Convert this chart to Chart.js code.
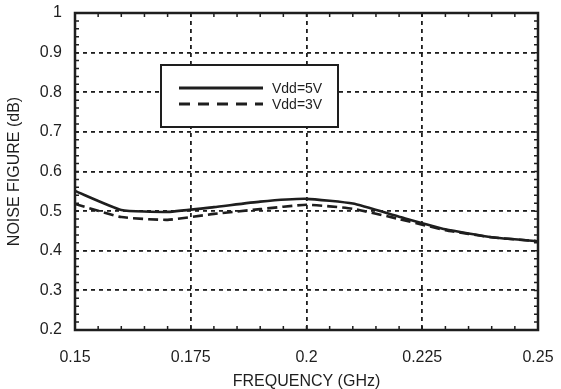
<!DOCTYPE html>
<html>
<head>
<meta charset="utf-8">
<script src="https://cdn.jsdelivr.net/npm/chart.js@4.4.1/dist/chart.umd.min.js"></script>
<style>
  html, body { margin: 0; padding: 0; background: #fff; }
  #wrap { width: 561px; height: 389px; }
</style>
</head>
<body>
<div id="wrap"><canvas id="nf"></canvas></div>
<script>
// frequency points (GHz) and noise figure (dB) for both supply voltages
const freqs = [0.15, 0.16, 0.17, 0.18, 0.19, 0.20, 0.21, 0.22, 0.23, 0.24, 0.25];
const nf5V = [0.551, 0.503, 0.498, 0.510, 0.524, 0.531, 0.519, 0.486, 0.454, 0.434, 0.424];
const nf3V = [0.518, 0.485, 0.478, 0.493, 0.505, 0.516, 0.506, 0.480, 0.452, 0.434, 0.424];

const xTicks = [0.15, 0.175, 0.2, 0.225, 0.25];
const xTickLabels = ['0.15', '0.175', '0.2', '0.225', '0.25'];
const yTicks = [0.2, 0.3, 0.4, 0.5, 0.6, 0.7, 0.8, 0.9, 1];
const yTickLabels = ['0.2', '0.3', '0.4', '0.5', '0.6', '0.7', '0.8', '0.9', '1'];

const ink = '#1e1e1e';
const font = { family: 'Liberation Sans, Arial, Helvetica, sans-serif', size: 16 };

const toPoints = (ys) => freqs.map((f, i) => ({ x: f, y: ys[i] }));

// keep the plot box where the layout padding puts it (no label overhang)
const noOverhang = (s) => {
  s.paddingLeft = s.paddingRight = s.paddingTop = s.paddingBottom = 0;
};

// small inward ticks on all four sides plus the heavy frame
const framePlugin = {
  id: 'frame',
  afterDatasetsDraw(chart) {
    const { ctx, chartArea: a, scales: { x, y } } = chart;
    ctx.save();
    ctx.strokeStyle = ink;
    ctx.lineWidth = 1.5;
    ctx.setLineDash([]);
    const len = 4;
    ctx.beginPath();
    for (let i = 1; i < 20; i++) {
      const px = x.getPixelForValue(0.15 + i * 0.005);
      ctx.moveTo(px, a.top); ctx.lineTo(px, a.top + len);
      ctx.moveTo(px, a.bottom); ctx.lineTo(px, a.bottom - len);
    }
    for (let i = 1; i < 40; i++) {
      const py = y.getPixelForValue(0.2 + i * 0.02);
      ctx.moveTo(a.left, py); ctx.lineTo(a.left + len, py);
      ctx.moveTo(a.right, py); ctx.lineTo(a.right - len, py);
    }
    ctx.stroke();
    ctx.lineWidth = 2.5;
    ctx.strokeRect(a.left, a.top, a.right - a.left, a.bottom - a.top);
    ctx.restore();
  }
};

// boxed legend sitting inside the plot area
const boxLegend = {
  id: 'boxLegend',
  afterDatasetsDraw(chart) {
    const { ctx, chartArea: a } = chart;
    const bx = a.left + 86, by = a.top + 52, bw = 177, bh = 62;
    ctx.save();
    ctx.fillStyle = '#fff';
    ctx.fillRect(bx, by, bw, bh);
    ctx.strokeStyle = ink;
    ctx.lineWidth = 2;
    ctx.setLineDash([]);
    ctx.strokeRect(bx, by, bw, bh);
    ctx.font = '14px ' + font.family;
    ctx.textBaseline = 'middle';
    ctx.fillStyle = ink;
    chart.data.datasets.forEach((ds, i) => {
      const ly = by + 23 + i * 16;
      ctx.beginPath();
      ctx.lineWidth = 3;
      ctx.setLineDash(ds.borderDash.length ? [11, 8] : []);
      ctx.moveTo(bx + 18, ly);
      ctx.lineTo(bx + 102, ly);
      ctx.stroke();
      ctx.fillText(ds.label, bx + 111, ly + 1);
    });
    ctx.restore();
  }
};

new Chart(document.getElementById('nf'), {
  type: 'line',
  data: {
    datasets: [
      {
        label: 'Vdd=5V',
        data: toPoints(nf5V),
        borderColor: ink,
        borderWidth: 2.6,
        borderDash: [],
        pointRadius: 0,
        tension: 0.15
      },
      {
        label: 'Vdd=3V',
        data: toPoints(nf3V),
        borderColor: ink,
        borderWidth: 2.6,
        borderDash: [10, 5],
        pointRadius: 0,
        tension: 0.15
      }
    ]
  },
  options: {
    responsive: true,
    maintainAspectRatio: false,
    animation: false,
    layout: { padding: { top: 13, right: 23, left: 0, bottom: 0 } },
    plugins: { legend: { display: false }, tooltip: { enabled: false } },
    scales: {
      x: {
        type: 'linear',
        min: 0.15,
        max: 0.25,
        afterBuildTicks: (s) => { s.ticks = xTicks.map(v => ({ value: v })); },
        afterFit: (s) => { s.height = 59; noOverhang(s); },
        ticks: {
          color: ink,
          font: font,
          padding: 18,
          maxRotation: 0,
          callback: (v) => xTickLabels[xTicks.indexOf(v)]
        },
        grid: { color: ink, lineWidth: 1.8, drawTicks: false },
        border: { display: false, dash: [4, 4] },
        title: { display: true, text: 'FREQUENCY (GHz)', color: ink, font: font, padding: { top: 0, bottom: -2 } }
      },
      y: {
        min: 0.2,
        max: 1,
        afterBuildTicks: (s) => { s.ticks = yTicks.map(v => ({ value: v })); },
        afterFit: (s) => { s.width = 75; noOverhang(s); },
        ticks: {
          color: ink,
          font: font,
          padding: 13,
          callback: (v) => yTickLabels[yTicks.indexOf(v)]
        },
        grid: { color: ink, lineWidth: 1.8, drawTicks: false },
        border: { display: false, dash: [4, 4] },
        title: { display: true, text: 'NOISE FIGURE (dB)', color: ink, font: font, padding: { top: 5, bottom: 0 } }
      }
    }
  },
  plugins: [framePlugin, boxLegend]
});
</script>
</body>
</html>
